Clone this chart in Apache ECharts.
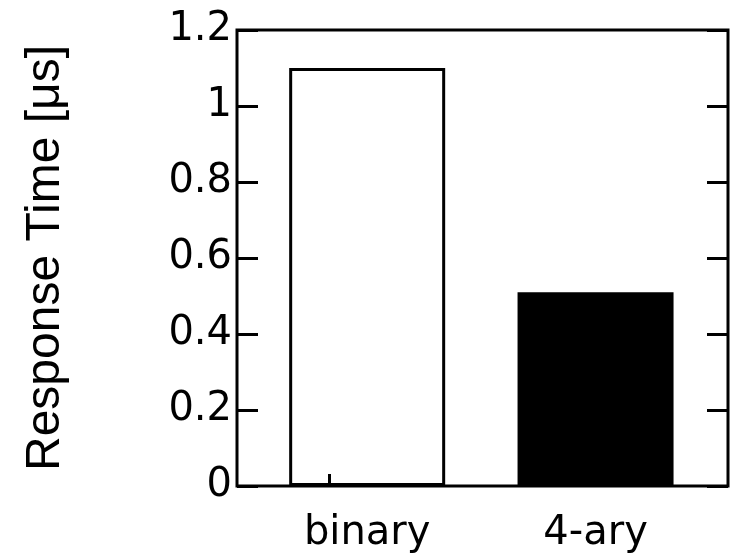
<!DOCTYPE html>
<html>
<head>
<meta charset="utf-8">
<script src="https://cdn.jsdelivr.net/npm/echarts@6/dist/echarts.min.js"></script>
<style>html,body{margin:0;padding:0;background:#fff}#c{width:746px;height:559px}</style>
</head>
<body>
<div id="c"></div>
<script>
const categories = ['binary', '4-ary'];
const values = [1.1, 0.51];
const barColors = ['rgba(255,255,255,0)', '#000000'];
const yMin = 0, yMax = 1.2, yStep = 0.2;
const yTitle = 'Response Time [\u03bcs]';

const chart = echarts.init(document.getElementById('c'), null, {renderer: 'canvas'});
const font = 'DejaVu Sans';
const yBase = {
  type: 'value', min: yMin, max: yMax, interval: yStep,
  splitLine: {show: false},
  axisLine: {show: false, onZero: false}
};
chart.setOption({
  animation: false,
  backgroundColor: '#fff',
  grid: {left: 237, right: 18, top: 30, bottom: 73, show: true, borderColor: '#000', borderWidth: 3, backgroundColor: 'transparent'},
  xAxis: {
    type: 'value', min: -0.57, max: 1.58,
    splitLine: {show: false},
    axisLine: {show: false, onZero: false},
    axisTick: {show: true, inside: true, length: 12, lineStyle: {color: '#000', width: 3}, customValues: [-0.166]},
    axisLabel: {
      customValues: [0, 1],
      formatter: v => categories[Math.round(v)],
      color: '#000', fontFamily: font, fontSize: 40, margin: 28
    }
  },
  yAxis: [
    Object.assign({}, yBase, {
      position: 'left',
      name: yTitle, nameLocation: 'middle', nameGap: 167, nameRotate: 90,
      nameTextStyle: {color: '#000', fontFamily: 'Liberation Sans', fontSize: 48},
      axisTick: {show: true, inside: true, length: 21, lineStyle: {color: '#000', width: 3}},
      axisLabel: {color: '#000', fontFamily: font, fontSize: 40, margin: 5}
    }),
    Object.assign({}, yBase, {
      position: 'right',
      axisTick: {show: true, inside: true, length: 21, lineStyle: {color: '#000', width: 3}},
      axisLabel: {show: false}
    })
  ],
  series: [{
    type: 'bar',
    barWidth: 156,
    z: 1,
    data: values.map((v, i) => ({
      value: [i, v],
      itemStyle: {color: barColors[i], borderColor: '#000', borderWidth: 3}
    }))
  }]
});
</script>
</body>
</html>
